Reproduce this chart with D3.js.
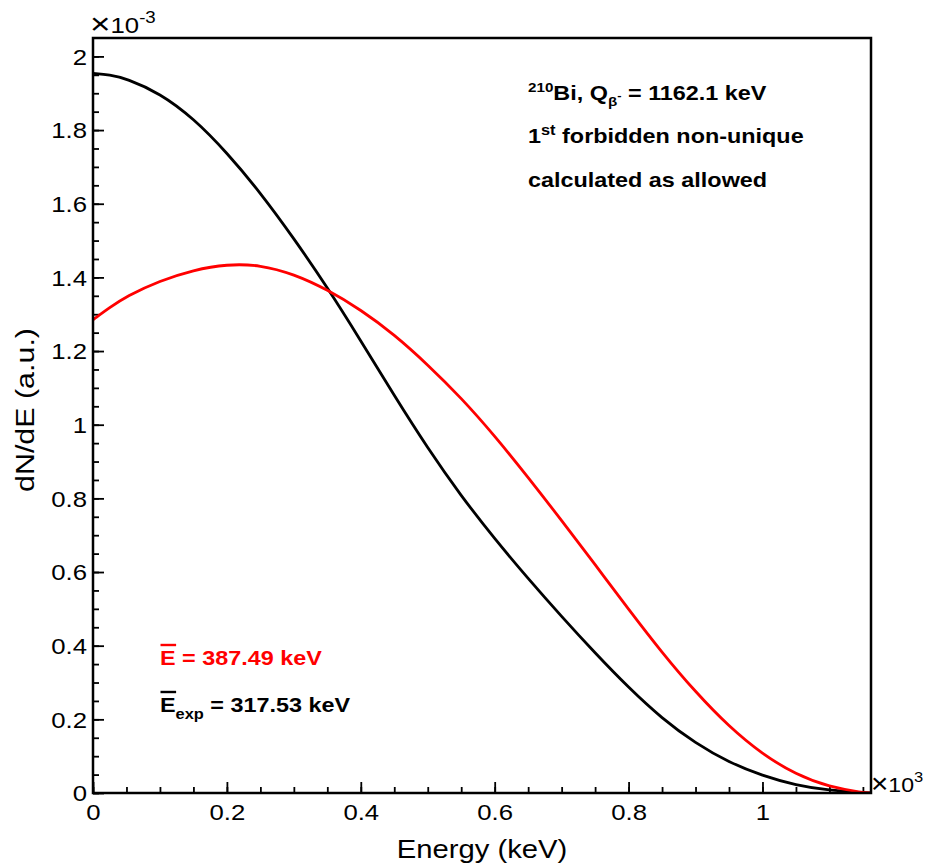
<!DOCTYPE html>
<html>
<head>
<meta charset="utf-8">
<script src="https://cdn.jsdelivr.net/npm/d3@7"></script>
<style>
  body { margin: 0; background: #fff; }
  text { font-family: "Liberation Sans", Arial, sans-serif; }
</style>
</head>
<body>
<svg id="chart" width="926" height="866"></svg>
<script>
// energies in keV, spectra in units of 1e-3
const energy = [0, 25, 50, 100, 150, 200, 250, 300, 350, 400, 450, 500, 550, 600,
  650, 700, 750, 800, 850, 900, 950, 1000, 1050, 1100, 1150, 1162.1];
const allowedExp = [1.954, 1.950, 1.940, 1.900, 1.832, 1.739, 1.630, 1.506, 1.373, 1.228,
  1.079, 0.936, 0.806, 0.690, 0.582, 0.479, 0.380, 0.286, 0.202, 0.135, 0.083, 0.047,
  0.021, 0.007, 0.0006, 0];
const allowedCalc = [1.285, 1.318, 1.349, 1.391, 1.420, 1.436, 1.434, 1.409, 1.367, 1.312,
  1.245, 1.163, 1.073, 0.970, 0.857, 0.740, 0.620, 0.499, 0.381, 0.274, 0.180, 0.105,
  0.050, 0.016, 0.001, 0];
const xTickLabels = ["0", "0.2", "0.4", "0.6", "0.8", "1"];
const yTickLabels = ["0", "0.2", "0.4", "0.6", "0.8", "1", "1.2", "1.4", "1.6", "1.8", "2"];

const svg = d3.select("#chart");
const frameL = 93, frameR = 871, frameT = 38, frameB = 793;
const sx = 1.17; // horizontal stretch of the text

const x = d3.scaleLinear().domain([0, 1162.1]).range([frameL, frameR]);
const y = d3.scaleLinear().domain([0, 2.05]).range([frameB, frameT]);

svg.append("clipPath").attr("id", "frame-clip")
  .append("rect")
  .attr("x", frameL).attr("y", frameT)
  .attr("width", frameR - frameL).attr("height", frameB - frameT);

// minor ticks
svg.append("g")
  .attr("transform", `translate(0,${frameB})`)
  .call(d3.axisBottom(x).tickValues(d3.range(0, 1162, 50)).tickSize(-6).tickFormat(""))
  .call(g => g.select(".domain").remove());
svg.append("g")
  .attr("transform", `translate(${frameL},0)`)
  .call(d3.axisLeft(y).tickValues(d3.range(0, 2.04, 0.05)).tickSize(-6).tickFormat(""))
  .call(g => g.select(".domain").remove());

// major ticks + labels
const xAxis = svg.append("g")
  .attr("transform", `translate(0,${frameB})`)
  .call(d3.axisBottom(x).tickValues(xTickLabels.map(d => +d * 1000))
    .tickSize(-11).tickPadding(11).tickFormat((d, i) => xTickLabels[i]))
  .call(g => g.select(".domain").remove());
xAxis.selectAll("text").attr("font-size", 22).attr("fill", "#000")
  .attr("transform", `scale(${sx},1)`);

const yAxis = svg.append("g")
  .attr("transform", `translate(${frameL},0)`)
  .call(d3.axisLeft(y).tickValues(yTickLabels.map(d => +d))
    .tickSize(-11).tickFormat((d, i) => yTickLabels[i]))
  .call(g => g.select(".domain").remove());
yAxis.selectAll("text").attr("font-size", 22).attr("fill", "#000")
  .attr("x", -6 / sx).attr("dy", "0.36em")
  .attr("transform", `scale(${sx},1)`);

svg.selectAll(".tick line").attr("stroke", "#000").attr("stroke-width", 1.8);

// curves
const line = d3.line()
  .x((d, i) => x(energy[i]))
  .y(d => y(d))
  .curve(d3.curveBasis);

const curves = svg.append("g").attr("clip-path", "url(#frame-clip)");
curves.append("path").datum(allowedExp)
  .attr("d", line).attr("fill", "none")
  .attr("stroke", "#000").attr("stroke-width", 2.8);
curves.append("path").datum(allowedCalc)
  .attr("d", line).attr("fill", "none")
  .attr("stroke", "#ff0000").attr("stroke-width", 2.8);

// frame
svg.append("rect")
  .attr("x", frameL).attr("y", frameT)
  .attr("width", frameR - frameL).attr("height", frameB - frameT)
  .attr("fill", "none").attr("stroke", "#000").attr("stroke-width", 2.5);

function label(px, py, opts) {
  return svg.append("text")
    .attr("transform", `translate(${px},${py}) scale(${opts.stretch || sx},1)`)
    .attr("font-size", opts.size || 22)
    .attr("font-weight", opts.bold ? "bold" : "normal")
    .attr("fill", opts.color || "#000");
}

// axis titles
label((frameL + frameR) / 2, 858, { size: 25 }).attr("text-anchor", "middle").text("Energy (keV)");
svg.append("text")
  .attr("transform", `translate(34,410) rotate(-90) scale(${sx},1)`)
  .attr("font-size", 26).attr("text-anchor", "middle").text("dN/dE (a.u.)");

// exponents
const ex = label(90, 33, {});
ex.append("tspan").attr("font-size", 30).attr("dy", 1).text("\u00d7");
ex.append("tspan").attr("dy", -1).text("10");
ex.append("tspan").attr("font-size", 16).attr("dy", -10).text("-3");
const ex2 = label(871, 792, { size: 21, stretch: 1.1 });
ex2.append("tspan").attr("font-size", 27).attr("dy", 1).text("\u00d7");
ex2.append("tspan").attr("dy", -1).text("10");
ex2.append("tspan").attr("font-size", 15).attr("dy", -10).text("3");

// annotation, top right
const a1 = label(528, 100, { bold: true, size: 20 });
a1.append("tspan").attr("font-size", 13).attr("dy", -8).text("210");
a1.append("tspan").attr("dy", 8).text("Bi, Q");
a1.append("tspan").attr("font-size", 13).attr("dy", 6).text("\u03b2");
a1.append("tspan").attr("font-size", 11).attr("dy", -7).text("-");
a1.append("tspan").attr("dy", 1).text(" = 1162.1 keV");

const a2 = label(528, 143, { bold: true, size: 20 });
a2.append("tspan").text("1");
a2.append("tspan").attr("font-size", 14).attr("dy", -8).text("st");
a2.append("tspan").attr("dy", 8).text(" forbidden non-unique");

label(528, 187, { bold: true, size: 20 }).text("calculated as allowed");

// mean energies
const e1 = label(160, 665, { bold: true, size: 20, color: "#ff0000" });
e1.text("E = 387.49 keV");
const e2 = label(160, 712, { bold: true, size: 20 });
e2.append("tspan").text("E");
e2.append("tspan").attr("font-size", 14).attr("dy", 7).text("exp");
e2.append("tspan").attr("dy", -7).text(" = 317.53 keV");

const eWidth = 0.667 * 20 * sx;
[[665, "#ff0000"], [712, "#000"]].forEach(([by, c]) => {
  svg.append("line")
    .attr("x1", 160.5).attr("x2", 160.5 + eWidth)
    .attr("y1", by - 20).attr("y2", by - 20)
    .attr("stroke", c).attr("stroke-width", 2.4);
});
</script>
</body>
</html>
